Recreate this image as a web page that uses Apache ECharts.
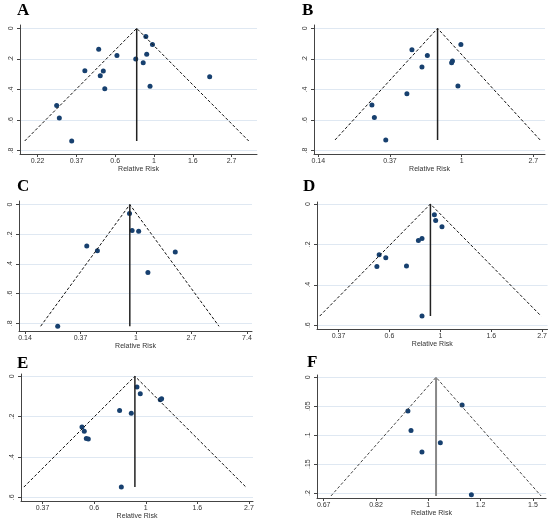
<!DOCTYPE html>
<html>
<head>
<meta charset="utf-8">
<script src="https://cdn.jsdelivr.net/npm/echarts@6/dist/echarts.min.js"></script>
<style>
  html, body { margin: 0; padding: 0; background: #fff; }
  #main { width: 550px; height: 524px; }
</style>
</head>
<body>
<div id="main"></div>
<script>
// panel letters
var panelNames = ['A', 'B', 'C', 'D', 'E', 'F'];

// relative risk of each study (x) and its standard error of log RR (y)
var rrA = [0.90, 0.98, 0.49, 0.62, 0.91, 0.79, 0.87, 0.41, 0.52, 0.50, 2.05, 0.53, 0.95, 0.285, 0.295, 0.346];
var seA = [0.054, 0.105, 0.137, 0.177, 0.170, 0.200, 0.225, 0.277, 0.279, 0.310, 0.316, 0.395, 0.379, 0.504, 0.586, 0.737];
var rrB = [0.99, 0.50, 0.62, 0.88, 0.87, 0.575, 0.95, 0.466, 0.286, 0.296, 0.347];
var seB = [0.105, 0.140, 0.177, 0.214, 0.225, 0.253, 0.377, 0.427, 0.501, 0.584, 0.730];
var rrC = [0.89, 0.933, 1.05, 0.412, 0.499, 2.03, 1.24, 0.244];
var seC = [0.061, 0.175, 0.179, 0.280, 0.311, 0.320, 0.457, 0.820];
var rrD = [0.943, 0.955, 1.016, 0.835, 0.806, 0.548, 0.585, 0.536, 0.717, 0.835];
var seD = [0.053, 0.082, 0.113, 0.171, 0.181, 0.251, 0.266, 0.309, 0.307, 0.555];
var rrE = [0.918, 0.948, 1.166, 1.151, 0.776, 0.869, 0.539, 0.551, 0.562, 0.573, 0.789];
var seE = [0.054, 0.087, 0.112, 0.117, 0.170, 0.183, 0.252, 0.272, 0.308, 0.311, 0.549];
var rrF = [1.138, 0.925, 0.936, 1.047, 0.976, 1.179];
var seF = [0.048, 0.058, 0.092, 0.113, 0.129, 0.203];

// pooled relative risk and largest standard error (funnel depth)
var pooledRR = [0.80, 0.715, 0.895, 0.907, 0.90, 1.03];
var seMax = [0.737, 0.73, 0.82, 0.555, 0.549, 0.205];

// x tick positions (log RR) and their labels
var xTickA = [-1.5, -1, -0.5, 0, 0.5, 1];
var xLabA = ['0.22', '0.37', '0.6', '1', '1.6', '2.7'];
var xTickB = [-2, -1, 0, 1];
var xLabB = ['0.14', '0.37', '1', '2.7'];
var xTickC = [-2, -1, 0, 1, 2];
var xLabC = ['0.14', '0.37', '1', '2.7', '7.4'];
var xTickD = [-1, -0.5, 0, 0.5, 1];
var xLabD = ['0.37', '0.6', '1', '1.6', '2.7'];
var xTickE = [-1, -0.5, 0, 0.5, 1];
var xLabE = ['0.37', '0.6', '1', '1.6', '2.7'];
var xTickF = [-0.4, -0.2, 0, 0.2, 0.4];
var xLabF = ['0.67', '0.82', '1', '1.2', '1.5'];

// y tick positions and labels
var yTick8 = [0, 0.2, 0.4, 0.6, 0.8];
var yLab8 = ['0', '.2', '.4', '.6', '.8'];
var yTick6 = [0, 0.2, 0.4, 0.6];
var yLab6 = ['0', '.2', '.4', '.6'];
var yTickF = [0, 0.05, 0.1, 0.15, 0.2];
var yLabF = ['0', '.05', '.1', '.15', '.2'];

var rrs = [rrA, rrB, rrC, rrD, rrE, rrF];
var ses = [seA, seB, seC, seD, seE, seF];
var xTicks = [xTickA, xTickB, xTickC, xTickD, xTickE, xTickF];
var xLabs = [xLabA, xLabB, xLabC, xLabD, xLabE, xLabF];
var yTicks = [yTick8, yTick8, yTick8, yTick6, yTick6, yTickF];
var yLabs = [yLab8, yLab8, yLab8, yLab6, yLab6, yLabF];

// layout of each panel
var grids = [
	{ left: 20, top: 25, width: 237, height: 129 },
	{ left: 314, top: 25, width: 231, height: 129 },
	{ left: 19, top: 201, width: 233, height: 130 },
	{ left: 317, top: 202, width: 231, height: 127 },
	{ left: 21, top: 374, width: 232, height: 127 },
	{ left: 317, top: 375, width: 229, height: 123 }
];
var xRange = [[-1.728, 1.328], [-2.06, 1.164], [-2.108, 2.091], [-1.212, 1.053], [-1.209, 1.039], [-0.4256, 0.45]];
var yRange = [[-0.022, 0.822], [-0.022, 0.822], [-0.024, 0.852], [-0.01, 0.619], [-0.011, 0.618], [-0.004, 0.2085]];
var titlePos = [[17, 2], [302, 2], [17, 178], [303, 178], [17, 355], [307, 354]];

var chart = echarts.init(document.getElementById('main'));

var option = {
	backgroundColor: '#fff',
	animation: false,
	title: [],
	grid: [],
	xAxis: [],
	yAxis: [],
	series: []
};

for (var i = 0; i < 6; i++) {
	option.title.push({
		text: panelNames[i],
		left: titlePos[i][0],
		top: titlePos[i][1],
		padding: 0,
		textStyle: { fontFamily: 'Liberation Serif', fontWeight: 'bold', fontSize: 17, color: '#000' }
	});
	option.grid.push(grids[i]);

	(function (ticks, labs, yt, yl) {
		option.xAxis.push({
			type: 'value',
			gridIndex: i,
			min: xRange[i][0],
			max: xRange[i][1],
			name: 'Relative Risk',
			nameLocation: 'middle',
			nameGap: 11,
			nameTextStyle: { fontFamily: 'Liberation Sans', fontSize: 7, color: '#333' },
			axisLine: { onZero: false, lineStyle: { color: '#444', width: 1 } },
			axisTick: { show: true, length: 3, customValues: ticks, lineStyle: { color: '#444' } },
			axisLabel: {
				customValues: ticks,
				fontFamily: 'Liberation Sans',
				fontSize: 7,
				color: '#333',
				margin: 4,
				formatter: function (v) {
					for (var k = 0; k < ticks.length; k++) {
						if (Math.abs(ticks[k] - v) < 1e-6) return labs[k];
					}
					return '';
				}
			},
			splitLine: { show: false }
		});
		option.yAxis.push({
			type: 'value',
			gridIndex: i,
			inverse: true,
			min: yRange[i][0],
			max: yRange[i][1],
			axisLine: { show: true, onZero: false, lineStyle: { color: '#444', width: 1 } },
			axisTick: { show: true, length: 3, customValues: yt, lineStyle: { color: '#444' } },
			axisLabel: {
				customValues: yt,
				rotate: 90,
				fontFamily: 'Liberation Sans',
				fontSize: 7,
				color: '#333',
				margin: 5,
				formatter: function (v) {
					for (var k = 0; k < yt.length; k++) {
						if (Math.abs(yt[k] - v) < 1e-6) return yl[k];
					}
					return '';
				}
			},
			splitLine: { show: true, lineStyle: { color: '#dfe8f2', width: 1 } }
		});
	})(xTicks[i], xLabs[i], yTicks[i], yLabs[i]);

	var pts = [];
	for (var j = 0; j < rrs[i].length; j++) {
		pts.push([Math.log(rrs[i][j]), ses[i][j]]);
	}
	var p = Math.log(pooledRR[i]);
	var s = seMax[i];
	var isF = (i === 5);

	// pseudo 95% limits
	option.series.push({
		type: 'line',
		xAxisIndex: i,
		yAxisIndex: i,
		data: [[p - 1.96 * s, s], [p, 0], [p + 1.96 * s, s]],
		symbol: 'none',
		silent: true,
		lineStyle: { color: isF ? '#444' : '#111', width: 1, type: [3, 2] }
	});
	// pooled estimate
	option.series.push({
		type: 'line',
		xAxisIndex: i,
		yAxisIndex: i,
		data: [[p, 0], [p, s]],
		symbol: 'none',
		silent: true,
		lineStyle: { color: isF ? '#888' : '#222', width: isF ? 2 : 1.5 }
	});
	option.series.push({
		type: 'scatter',
		xAxisIndex: i,
		yAxisIndex: i,
		data: pts,
		symbolSize: 5,
		itemStyle: { color: '#17406f', opacity: 1 }
	});
}

chart.setOption(option);
</script>
</body>
</html>
